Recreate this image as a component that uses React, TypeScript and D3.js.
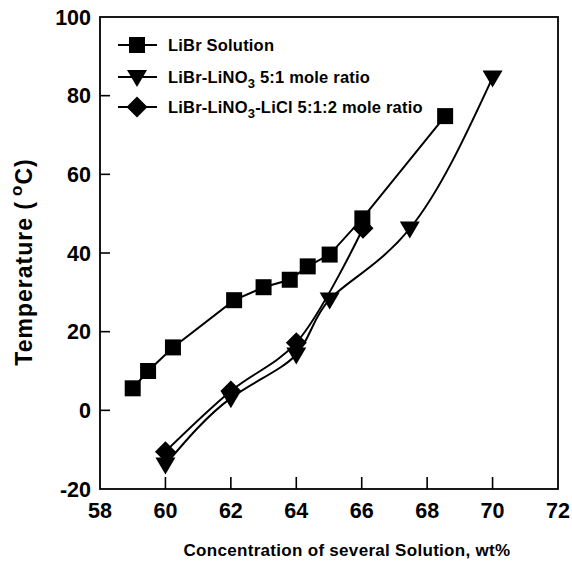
import React from "react";
import * as d3 from "d3";

const xTicks = [58, 60, 62, 64, 66, 68, 70, 72];
const yTicks = [-20, 0, 20, 40, 60, 80, 100];

const librX = [59, 59.47, 60.23, 62.1, 63.0, 63.8, 64.35, 65.02, 66.02, 68.55];
const librY = [5.6, 10, 16, 28, 31.3, 33.2, 36.6, 39.6, 48.8, 74.8];

const nitX = [60, 62, 64, 65.02, 67.47, 70];
const nitY = [-13.8, 3.1, 14.2, 28.2, 46.2, 84.6];

const chlX = [60, 62, 64, 66.04];
const chlY = [-10.5, 4.9, 17.2, 46.3];

const legendLabels = ["LiBr Solution", "LiBr-LiNO3 5:1 mole ratio", "LiBr-LiNO3-LiCl 5:1:2 mole ratio"];

const W = 572, H = 566;
const L = 100, R = 558, T = 17, B = 489;
const FONT = "'Liberation Sans', Arial, sans-serif";

function Marker({ kind, x, y }: { kind: string; x: number; y: number }) {
  if (kind === "square") return <rect x={x - 8} y={y - 8} width={16} height={16} fill="#000" />;
  if (kind === "tri") return <path d={`M${x - 10},${y - 7} L${x + 10},${y - 7} L${x},${y + 10} Z`} fill="#000" />;
  return <path d={`M${x},${y - 10.5} L${x + 10.5},${y} L${x},${y + 10.5} L${x - 10.5},${y} Z`} fill="#000" />;
}

export default function App() {
  const x = d3.scaleLinear().domain([58, 72]).range([L, R]);
  const y = d3.scaleLinear().domain([-20, 100]).range([B, T]);

  const mk = (xs: number[], ys: number[]) => xs.map((v, i) => [v, ys[i]] as [number, number]);
  const libr = mk(librX, librY);
  const nit = mk(nitX, nitY);
  const chl = mk(chlX, chlY);

  const linLine = d3.line<[number, number]>().x(d => x(d[0])).y(d => y(d[1])).curve(d3.curveLinear);
  const nitLine = d3.line<[number, number]>().x(d => x(d[0])).y(d => y(d[1])).curve(d3.curveNatural);
  const chlLine = d3.line<[number, number]>().x(d => x(d[0])).y(d => y(d[1])).curve(d3.curveCatmullRom);

  const legendRows = [
    { kind: "square", y: 45 },
    { kind: "tri", y: 77 },
    { kind: "diamond", y: 107 },
  ];

  return (
    <svg width={W} height={H} style={{ position: "absolute", left: 0, top: 0, background: "#fff" }} fontFamily={FONT}>
      <rect x={0} y={0} width={W} height={H} fill="#fff" />
      <rect x={L} y={T} width={R - L} height={B - T} fill="none" stroke="#000" strokeWidth={1.8} />
      {yTicks.map(t => (
        <g key={"y" + t}>
          {t > -20 && t < 100 && <line x1={L} x2={L + 10} y1={y(t)} y2={y(t)} stroke="#000" strokeWidth={1.6} />}
          <text x={L - 9} y={y(t)} dy="0.36em" textAnchor="end" fontSize={21.5} fontWeight="bold">{t}</text>
        </g>
      ))}
      {xTicks.map(t => (
        <g key={"x" + t}>
          {t > 58 && t < 72 && <line x1={x(t)} x2={x(t)} y1={B} y2={B - 12} stroke="#000" strokeWidth={1.6} />}
          <text x={x(t)} y={B + 29} textAnchor="middle" fontSize={21.5} fontWeight="bold">{t}</text>
        </g>
      ))}
      <text x={347} y={556} textAnchor="middle" fontSize={17} fontWeight="bold" letterSpacing={0.3}>Concentration of several Solution, wt%</text>
      <text transform={`translate(32,262) rotate(-90)`} textAnchor="middle" fontSize={23} fontWeight="bold" letterSpacing={1}>
        Temperature (<tspan dx={5} dy={-10} fontSize={17}>o</tspan><tspan dy={10}>C)</tspan>
      </text>
      <path d={linLine(libr) || ""} fill="none" stroke="#000" strokeWidth={2} />
      <path d={nitLine(nit) || ""} fill="none" stroke="#000" strokeWidth={2} />
      <path d={chlLine(chl) || ""} fill="none" stroke="#000" strokeWidth={2} />
      {libr.map((d, i) => <Marker key={"s" + i} kind="square" x={x(d[0])} y={y(d[1])} />)}
      {nit.map((d, i) => <Marker key={"t" + i} kind="tri" x={x(d[0])} y={y(d[1])} />)}
      {chl.map((d, i) => <Marker key={"d" + i} kind="diamond" x={x(d[0])} y={y(d[1])} />)}
      {legendRows.map((r, i) => (
        <g key={"l" + i}>
          <line x1={118} x2={157} y1={r.y} y2={r.y} stroke="#000" strokeWidth={2} />
          <Marker kind={r.kind} x={137} y={r.y} />
          <text x={168} y={r.y} dy="0.36em" fontSize={16.5} fontWeight="bold" letterSpacing={0.2}>
            {i === 0 && legendLabels[0]}
            {i === 1 && (<>LiBr-LiNO<tspan dy={5} fontSize={13}>3</tspan><tspan dy={-5}> 5:1 mole ratio</tspan></>)}
            {i === 2 && (<>LiBr-LiNO<tspan dy={5} fontSize={13}>3</tspan><tspan dy={-5}>-LiCl 5:1:2 mole ratio</tspan></>)}
          </text>
        </g>
      ))}
    </svg>
  );
}
